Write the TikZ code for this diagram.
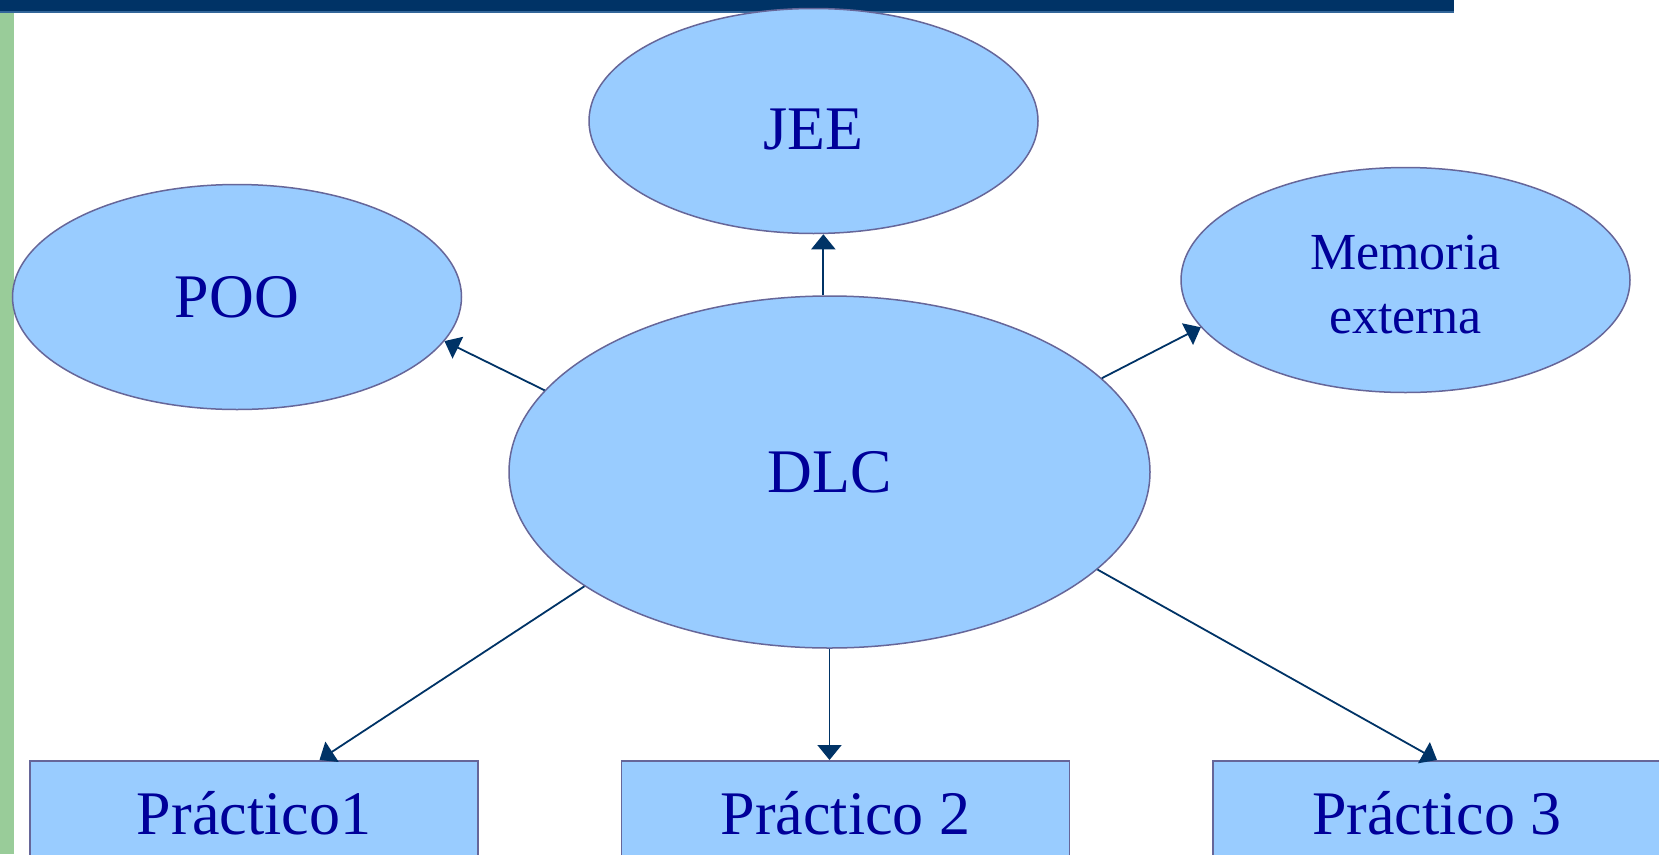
\documentclass[tikz,border=0pt]{standalone}
\usepackage{fontspec}
\setmainfont{Liberation Serif}
\usetikzlibrary{shapes.geometric,arrows.meta,calc}
\definecolor{navy}{HTML}{003366}
\definecolor{navyline}{HTML}{336699}
\definecolor{greenstrip}{HTML}{99CC99}
\definecolor{shapefill}{HTML}{99CCFF}
\definecolor{shapeborder}{HTML}{666699}
\definecolor{textblue}{HTML}{000099}
\tikzset{
  oval/.style={ellipse, draw=shapeborder, fill=shapefill, line width=1.5pt, inner sep=0pt,
    text=textblue, minimum width=449pt, minimum height=225pt,
    font=\fontsize{62}{74}\selectfont},
  bigoval/.style={oval, minimum width=641pt, minimum height=352pt},
  smalltext/.style={font=\fontsize{52}{64}\selectfont},
  pbox/.style={rectangle, draw=shapeborder, fill=shapefill, line width=1.5pt, inner sep=0pt,
    text=textblue, minimum width=448pt, minimum height=104pt, anchor=north,
    font=\fontsize{62}{74}\selectfont},
  arr/.style={draw=navy, line width=1.8pt, -{Triangle[length=15pt,width=24pt]}}
}
\begin{document}
\begin{tikzpicture}[x=1pt,y=-1pt]
\useasboundingbox (0,0) rectangle (1659,854);
\clip (0,0) rectangle (1659,854);
\fill[white] (0,0) rectangle (1659,854);
% frame decorations
\fill[navy] (0,0) rectangle (1454,11);
\fill[navyline] (0,11) rectangle (1454,12.5);
\fill[greenstrip] (0,12.5) rectangle (14,854);
% nodes
\node[oval, text height=56pt, text depth=0pt] (jee) at (813.5,121) {JEE};
\node[oval] (poo) at (237,297) {POO};
\node[oval, smalltext] (mem) at (1405.5,280) {\begin{tabular}{@{}c@{}}\rule{0pt}{62pt}Memoria\\externa\end{tabular}};
\node[bigoval] (dlc) at (829.5,472) {DLC};
\node[pbox] (p1) at (254,760) {Práctico1};
\node[pbox] (p2) at (845.5,760) {Práctico 2};
\node[pbox] (p3) at (1437,760) {Práctico 3};
% connectors
\draw[arr] (dlc.92) -- (dlc.92 |- jee.south);
\draw[arr] (dlc.164) -- (poo.-12);
\draw[arr] (dlc.19) -- (mem.193);
\draw[arr] (dlc.205) -- ([xshift=65.5pt]p1.north);
\draw[arr] (dlc.south) -- (dlc.south |- p2.north);
\draw[arr] (dlc.340) -- (p3.north);
\end{tikzpicture}
\end{document}
